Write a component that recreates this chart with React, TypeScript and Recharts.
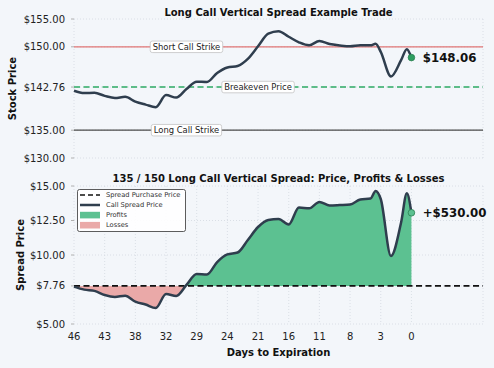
import React from 'react';
import {
  ComposedChart,
  Line,
  Area,
  XAxis,
  YAxis,
  CartesianGrid,
  ReferenceLine,
  ReferenceDot,
  Legend,
} from 'recharts';

// ---------- data ----------
const dayIndex = [
  0, 1, 2, 3, 4, 5, 6, 7, 8, 9, 10, 11, 12, 13, 14, 15, 16, 17, 18, 19, 20,
  21, 22, 23, 24, 25, 26, 27, 28, 29, 29.5, 30, 31, 32, 32.55, 33,
];
const stockPrice = [
  142.1, 141.68, 141.72, 141.18, 140.8, 141.0, 140.14, 139.6, 139.15, 141.32,
  140.87, 142.4, 143.73, 143.67, 145.3, 146.29, 146.56, 147.83, 150.09, 152.35,
  152.8, 151.81, 150.81, 150.27, 151.03, 150.49, 150.24, 150.09, 150.27, 150.27,
  150.54, 149.1, 144.67, 147.65, 149.58, 148.06,
];
const spreadPrice = [
  7.71, 7.49, 7.4, 7.1, 6.96, 7.05, 6.62, 6.41, 6.16, 7.17, 7.03, 7.83, 8.62,
  8.59, 9.49, 10.04, 10.18, 11.09, 12.03, 12.54, 12.61, 12.21, 13.44, 13.38,
  13.84, 13.59, 13.62, 13.66, 14.02, 14.09, 14.64, 14.06, 9.93, 12.39, 14.47,
  13.06,
];
const tickIndex = [0, 3, 6, 9, 12, 15, 18, 21, 24, 27, 30, 33];
const tickDays = [46, 43, 38, 32, 29, 24, 21, 16, 11, 8, 3, 0];
const stockTicks = [130, 135, 142.76, 150, 155];
const spreadTicks = [5, 7.76, 10, 12.5, 15];

const longStrike = 135;
const shortStrike = 150;
const breakeven = 142.76;
const purchasePrice = 7.76;
const finalPL = 530;

const legendItems = [
  { name: 'Spread Purchase Price', kind: 'dash', color: '#111111' },
  { name: 'Call Spread Price', kind: 'line', color: '#2f3e4e' },
  { name: 'Profits', kind: 'patch', color: '#5cc191' },
  { name: 'Losses', kind: 'patch', color: '#eaa9a8' },
];

const X_MAX = 40;
const FONT = '"DejaVu Sans", sans-serif';

const data = dayIndex.map((x, i) => ({ x, price: stockPrice[i], spread: spreadPrice[i] }));
const lastX = dayIndex[dayIndex.length - 1];
const lastPrice = stockPrice[stockPrice.length - 1];
const lastSpread = spreadPrice[spreadPrice.length - 1];
const spMax = Math.max(...spreadPrice);
const spMin = Math.min(...spreadPrice);
const splitOffset = (spMax - purchasePrice) / (spMax - spMin);

let measureCtx: any = null;
function measure(text: string, font: string) {
  if (!measureCtx) measureCtx = document.createElement('canvas').getContext('2d');
  measureCtx.font = font;
  return measureCtx.measureText(text).width;
}

const BoxLabel = (props: any) => {
  const { viewBox, text, at } = props;
  if (!viewBox) return null;
  const fs = 8.4;
  const w = measure(text, `${fs}px "DejaVu Sans"`) + 5;
  const h = 11.5;
  const cx = viewBox.x + (viewBox.width * at) / X_MAX;
  const cy = viewBox.y;
  return (
    <g>
      <rect x={cx - w / 2} y={cy - h / 2} width={w} height={h} rx={2} fill="#ffffff" stroke="#c4c4c4" strokeWidth={0.8} />
      <text x={cx} y={cy} textAnchor="middle" dominantBaseline="central" fontSize={fs} fill="#222" fontFamily={FONT}>
        {text}
      </text>
    </g>
  );
};

const AxisTitle = (props: any) => {
  const { viewBox, text, dx } = props;
  if (!viewBox) return null;
  const x = viewBox.x + dx;
  const y = viewBox.y + viewBox.height / 2;
  return (
    <text
      x={x}
      y={y}
      transform={`rotate(-90 ${x} ${y})`}
      textAnchor="middle"
      dominantBaseline="central"
      fontSize={10}
      fontWeight="bold"
      fill="#111"
      fontFamily={FONT}
    >
      {text}
    </text>
  );
};

const DotLabel = (props: any) => {
  const { viewBox, text } = props;
  if (!viewBox) return null;
  return (
    <text
      x={viewBox.x + viewBox.width + 8}
      y={viewBox.y + viewBox.height / 2}
      dominantBaseline="central"
      fontSize={11.8}
      fontWeight="bold"
      fill="#111"
      fontFamily={FONT}
    >
      {text}
    </text>
  );
};

const LegendBox = () => (
  <svg width={110} height={44} style={{ display: 'block' }}>
    <rect x={0.5} y={0.5} width={108} height={42} rx={2} fill="#ffffff" fillOpacity={0.9} stroke="#333" strokeWidth={0.8} />
    {legendItems.map((it, i) => {
      const cy = 5.9 + i * 10.1;
      return (
        <g key={it.name}>
          {it.kind === 'dash' && (
            <line x1={3} x2={23} y1={cy} y2={cy} stroke={it.color} strokeWidth={1.5} strokeDasharray="5 3" />
          )}
          {it.kind === 'line' && <line x1={3} x2={23} y1={cy} y2={cy} stroke={it.color} strokeWidth={2.5} />}
          {it.kind === 'patch' && <rect x={3} y={cy - 3.3} width={20} height={6.6} fill={it.color} />}
          <text x={29} y={cy} dominantBaseline="central" fontSize={6.7} fill="#333" fontFamily={FONT}>
            {it.name}
          </text>
        </g>
      );
    })}
  </svg>
);

const fmtDollar = (v: number) => `$${v.toFixed(2)}`;
const fmtDay = (v: number) => {
  const k = tickIndex.indexOf(v);
  return k >= 0 ? String(tickDays[k]) : '';
};

const tickStyle = { fontSize: 10, fill: '#222', fontFamily: FONT };

export default function App() {
  return (
    <div
      style={{
        position: 'absolute',
        left: 0,
        top: 0,
        width: 494,
        height: 368,
        background: '#f3f6fa',
        fontFamily: FONT,
        overflow: 'hidden',
      }}
    >
      <div
        style={{
          position: 'absolute',
          left: 74,
          width: 409,
          top: 6.5,
          textAlign: 'center',
          fontSize: 10,
          lineHeight: '12px',
          fontWeight: 'bold',
          color: '#111',
          whiteSpace: 'nowrap',
        }}
      >
        Long Call Vertical Spread Example Trade
      </div>
      <div style={{ position: 'absolute', left: 0, top: 0 }}>
        <ComposedChart width={494} height={166} data={data} margin={{ top: 19, right: 11, bottom: 0, left: 0 }}>
          <CartesianGrid stroke="#d3d9e1" strokeDasharray="1 2" strokeWidth={0.8} />
          <XAxis
            dataKey="x"
            type="number"
            domain={[0, X_MAX]}
            ticks={tickIndex}
            tick={false}
            tickLine={false}
            axisLine={false}
            height={8}
          />
          <YAxis
            type="number"
            domain={[130, 155]}
            ticks={stockTicks}
            interval={0}
            tickFormatter={fmtDollar}
            width={74}
            axisLine={false}
            tickSize={3}
            tickMargin={6}
            tickLine={{ stroke: '#b0b0b0' }}
            tick={tickStyle}
            label={(p: any) => <AxisTitle {...p} text="Stock Price" dx={12.5} />}
          />
          <ReferenceLine
            y={shortStrike}
            stroke="#e07474"
            strokeWidth={1.3}
            label={(p: any) => <BoxLabel {...p} text="Short Call Strike" at={11} />}
          />
          <ReferenceLine
            y={breakeven}
            stroke="#2eaa64"
            strokeWidth={1.6}
            strokeDasharray="6 3.5"
            label={(p: any) => <BoxLabel {...p} text="Breakeven Price" at={18} />}
          />
          <ReferenceLine
            y={longStrike}
            stroke="#4a4a4a"
            strokeWidth={1.3}
            label={(p: any) => <BoxLabel {...p} text="Long Call Strike" at={11} />}
          />
          <Line
            type="monotone"
            dataKey="price"
            stroke="#2f3e4e"
            strokeWidth={2.5}
            dot={false}
            isAnimationActive={false}
          />
          <ReferenceDot
            x={lastX}
            y={lastPrice}
            r={3.3}
            fill="#2e9e60"
            stroke="#2a7f50"
            strokeWidth={0.8}
            label={(p: any) => <DotLabel {...p} text={fmtDollar(lastPrice)} />}
          />
        </ComposedChart>
      </div>

      <div
        style={{
          position: 'absolute',
          left: 74,
          width: 409,
          top: 172.5,
          textAlign: 'center',
          fontSize: 10,
          lineHeight: '12px',
          fontWeight: 'bold',
          color: '#111',
          whiteSpace: 'nowrap',
        }}
      >
        135 / 150 Long Call Vertical Spread: Price, Profits &amp; Losses
      </div>
      <div style={{ position: 'absolute', left: 0, top: 160 }}>
        <ComposedChart width={494} height={208} data={data} margin={{ top: 26, right: 11, bottom: 0, left: 0 }}>
          <defs>
            <linearGradient id="plFill" x1="0" y1="0" x2="0" y2="1">
              <stop offset={splitOffset} stopColor="#5cc191" stopOpacity={1} />
              <stop offset={splitOffset} stopColor="#eaa9a8" stopOpacity={1} />
            </linearGradient>
          </defs>
          <CartesianGrid stroke="#d3d9e1" strokeDasharray="1 2" strokeWidth={0.8} />
          <XAxis
            dataKey="x"
            type="number"
            domain={[0, X_MAX]}
            ticks={tickIndex}
            interval={0}
            tickFormatter={fmtDay}
            tickLine={false}
            axisLine={false}
            tickSize={0}
            tickMargin={9}
            tick={tickStyle}
            height={44}
            label={{
              value: 'Days to Expiration',
              position: 'insideBottom',
              offset: 12,
              style: { fontSize: 10, fontWeight: 'bold', fill: '#111', fontFamily: FONT },
            }}
          />
          <YAxis
            type="number"
            domain={[5, 15]}
            ticks={spreadTicks}
            interval={0}
            tickFormatter={fmtDollar}
            width={74}
            axisLine={false}
            tickSize={3}
            tickMargin={6}
            tickLine={{ stroke: '#b0b0b0' }}
            tick={tickStyle}
            label={(p: any) => <AxisTitle {...p} text="Spread Price" dx={20} />}
          />
          <Area
            type="monotone"
            dataKey="spread"
            baseValue={purchasePrice}
            stroke="none"
            fill="url(#plFill)"
            fillOpacity={1}
            isAnimationActive={false}
          />
          <ReferenceLine y={purchasePrice} stroke="#111" strokeWidth={1.6} strokeDasharray="6 3.5" />
          <Line
            type="monotone"
            dataKey="spread"
            stroke="#2f3e4e"
            strokeWidth={2.5}
            dot={false}
            isAnimationActive={false}
          />
          <ReferenceDot
            x={lastX}
            y={lastSpread}
            r={3.3}
            fill="#5cc191"
            stroke="#2a7f50"
            strokeWidth={0.8}
            label={(p: any) => <DotLabel {...p} text={`+$${finalPL.toFixed(2)}`} />}
          />
          <Legend
            layout="horizontal"
            verticalAlign="middle"
            align="center"
            wrapperStyle={{ left: 77, top: 29, width: 110, height: 44 }}
            content={() => <LegendBox />}
          />
        </ComposedChart>
      </div>
    </div>
  );
}
